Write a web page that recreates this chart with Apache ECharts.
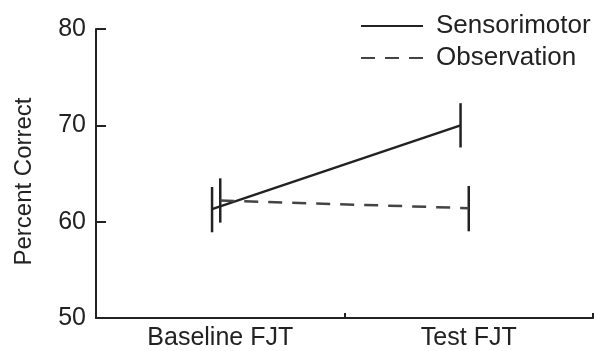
<!DOCTYPE html>
<html>
<head>
<meta charset="utf-8">
<script src="https://cdn.jsdelivr.net/npm/echarts@6/dist/echarts.min.js"></script>
<style>
html, body { margin: 0; padding: 0; background: #fff; }
#main { width: 595px; height: 351px; }
</style>
</head>
<body>
<div id="main"></div>
<script>
var categories = ['Baseline FJT', 'Test FJT'];
var yTicks = [50, 60, 70, 80];

var sensoriMean = [61.3, 70.0];
var sensoriLow = [58.9, 67.7];
var sensoriHigh = [63.6, 72.3];

var observMean = [62.2, 61.4];
var observLow = [59.9, 59.0];
var observHigh = [64.5, 63.7];

// small horizontal dodge so the two groups don't overlap
var dodge = { Sensorimotor: -0.033, Observation: 0 };
var ink = '#222';
var font = 'Liberation Sans, Arial, sans-serif';

function points(name, means) {
	return means.map(function (v, i) { return [i + 0.5 + dodge[name], v]; });
}
function bars(name, lows, highs) {
	return lows.map(function (lo, i) { return [i + 0.5 + dodge[name], lo, highs[i]]; });
}
function errRender(params, api) {
	var p1 = api.coord([api.value(0), api.value(1)]);
	var p2 = api.coord([api.value(0), api.value(2)]);
	return {
		type: 'line',
		shape: { x1: p1[0], y1: p1[1], x2: p2[0], y2: p2[1] },
		style: { stroke: ink, lineWidth: 2.5 }
	};
}

var myChart = echarts.init(document.getElementById('main'));
var option = {
	animation: false,
	grid: { left: 96, right: 2, top: 29, bottom: 32 },
	legend: {
		orient: 'vertical',
		left: 360,
		top: 13,
		padding: 0,
		itemWidth: 62,
		itemHeight: 14,
		itemGap: 6,
		itemStyle: { opacity: 0 },
		data: ['Sensorimotor', 'Observation'],
		textStyle: { fontFamily: font, fontSize: 26, color: ink, padding: [0, 0, 0, 8] }
	},
	xAxis: {
		type: 'value',
		min: 0,
		max: 2,
		interval: 0.5,
		splitLine: { show: false },
		axisLine: { lineStyle: { color: ink, width: 2 } },
		axisTick: { inside: true, length: 5, customValues: [1, 2], lineStyle: { color: ink, width: 2 } },
		axisLabel: {
			customValues: [0.5, 1.5],
			formatter: function (v) { return categories[Math.floor(v)]; },
			fontFamily: font, fontSize: 25, color: ink, margin: 8
		}
	},
	yAxis: {
		type: 'value',
		min: yTicks[0],
		max: yTicks[yTicks.length - 1],
		interval: 10,
		name: 'Percent Correct',
		nameLocation: 'middle',
		nameRotate: 90,
		nameGap: 60,
		nameTextStyle: { fontFamily: font, fontSize: 24, color: ink, padding: [0, 16, 0, 0] },
		splitLine: { show: false },
		axisLine: { show: true, lineStyle: { color: ink, width: 2 } },
		axisTick: { show: true, inside: true, length: 10, lineStyle: { color: ink, width: 2 } },
		axisLabel: { fontFamily: font, fontSize: 25, color: ink, margin: 10 }
	},
	series: [{
		name: 'Sensorimotor',
		type: 'line',
		symbol: 'none',
		color: ink,
		lineStyle: { color: ink, width: 2.5, type: 'solid' },
		data: points('Sensorimotor', sensoriMean)
	}, {
		name: 'Observation',
		type: 'line',
		symbol: 'none',
		color: ink,
		lineStyle: { color: '#444', width: 2.5, type: [14, 10] },
		data: points('Observation', observMean)
	}, {
		type: 'custom',
		renderItem: errRender,
		data: bars('Sensorimotor', sensoriLow, sensoriHigh)
	}, {
		type: 'custom',
		renderItem: errRender,
		data: bars('Observation', observLow, observHigh)
	}]
};
myChart.setOption(option);
</script>
</body>
</html>
